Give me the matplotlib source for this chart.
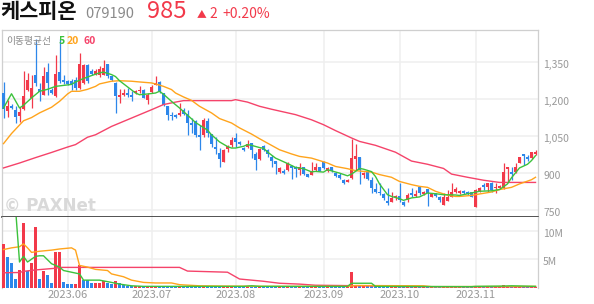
import numpy as np
import pandas as pd
import matplotlib
matplotlib.use('Agg')
import matplotlib.pyplot as plt
from matplotlib.transforms import ScaledTranslation

plt.rcParams['font.family'] = ['Noto Sans CJK KR', 'DejaVu Sans']

# 종목 정보
name = '케스피온'
code = '079190'
last_price = 985
change = 2
change_pct = 0.20

# 거래일 (주말 + 휴장일 제외)
holidays = ['2023-05-29', '2023-06-06', '2023-08-15', '2023-09-28',
            '2023-09-29', '2023-10-02', '2023-10-03', '2023-10-09']
dates = pd.bdate_range('2023-05-09', '2023-11-22')
dates = dates[~dates.isin(pd.to_datetime(holidays))]

opens = [1224, 1150, 1172, 1156, 1133, 1158, 1239, 1205, 1300, 1243,
         1218, 1310, 1239, 1211, 1310, 1279, 1272, 1272, 1279, 1245,
         1267, 1340, 1315, 1303, 1300, 1300, 1343, 1293, 1266, 1209,
         1216, 1225, 1218, 1225, 1232, 1239, 1198, 1229, 1259, 1270,
         1225, 1171, 1137, 1137, 1134, 1157, 1138, 1104, 1111, 1054,
         1054, 1111, 1058, 1006, 982, 945, 996, 1013, 1040, 1027,
         1000, 1004, 1020, 977, 955, 1009, 993, 966, 948, 905,
         909, 911, 928, 925, 911, 922, 895, 891, 911, 922,
         945, 909, 922, 901, 891, 871, 864, 878, 958, 963,
         891, 905, 871, 833, 823, 814, 787, 783, 800, 807,
         783, 789, 816, 806, 844, 814, 833, 803, 816, 803,
         769, 787, 803, 823, 816, 827, 823, 823, 762, 827,
         850, 844, 857, 837, 837, 837, 914, 905, 905, 941,
         975, 966, 960, 978]
highs = [1270, 1196, 1180, 1172, 1169, 1316, 1306, 1300, 1445, 1266,
         1329, 1347, 1245, 1381, 1445, 1297, 1280, 1283, 1289, 1388,
         1345, 1345, 1322, 1322, 1334, 1361, 1345, 1296, 1268, 1243,
         1243, 1245, 1234, 1236, 1252, 1241, 1225, 1256, 1293, 1273,
         1226, 1172, 1148, 1140, 1184, 1163, 1156, 1122, 1115, 1095,
         1122, 1122, 1058, 1044, 1000, 996, 1013, 1047, 1063, 1030,
         1006, 1034, 1020, 986, 1000, 1013, 996, 973, 948, 922,
         914, 945, 932, 928, 939, 924, 897, 945, 939, 925,
         949, 925, 925, 905, 898, 873, 873, 1036, 1017, 963,
         905, 908, 884, 857, 857, 818, 837, 823, 810, 857,
         787, 816, 837, 830, 846, 827, 833, 818, 818, 806,
         816, 830, 857, 841, 830, 830, 827, 823, 833, 841,
         857, 857, 864, 857, 850, 941, 922, 925, 939, 966,
         975, 973, 986, 992]
lows = [1122, 1129, 1160, 1104, 1108, 1156, 1232, 1164, 1252, 1191,
        1216, 1218, 1220, 1207, 1266, 1262, 1258, 1239, 1239, 1243,
        1260, 1265, 1298, 1298, 1289, 1297, 1286, 1275, 1144, 1184,
        1214, 1207, 1194, 1222, 1225, 1203, 1180, 1225, 1256, 1225,
        1171, 1116, 1116, 1123, 1130, 1137, 1054, 1061, 1044, 993,
        1047, 1044, 1004, 977, 922, 944, 986, 1006, 1006, 1013,
        990, 1000, 959, 911, 952, 990, 966, 925, 895, 898,
        895, 909, 873, 884, 891, 893, 882, 891, 909, 906,
        914, 905, 905, 884, 873, 854, 862, 873, 913, 855,
        878, 870, 819, 819, 810, 790, 769, 783, 789, 783,
        765, 783, 800, 803, 810, 810, 765, 800, 803, 783,
        769, 787, 800, 816, 813, 813, 810, 800, 762, 823,
        830, 823, 823, 819, 833, 833, 864, 871, 898, 939,
        932, 949, 958, 972]
closes = [1158, 1172, 1165, 1129, 1149, 1213, 1279, 1245, 1266, 1228,
          1293, 1266, 1225, 1302, 1275, 1268, 1262, 1259, 1245, 1343,
          1339, 1272, 1303, 1315, 1324, 1327, 1293, 1279, 1211, 1218,
          1225, 1216, 1209, 1232, 1239, 1205, 1218, 1248, 1266, 1232,
          1178, 1137, 1130, 1127, 1144, 1140, 1104, 1095, 1054, 1044,
          1115, 1061, 1017, 996, 955, 993, 1009, 1034, 1027, 1017,
          993, 1016, 993, 952, 997, 993, 977, 949, 935, 918,
          901, 939, 920, 917, 922, 895, 884, 909, 922, 909,
          918, 918, 909, 887, 878, 860, 871, 959, 967, 913,
          900, 873, 837, 823, 816, 796, 776, 796, 807, 789,
          769, 810, 810, 814, 816, 823, 816, 814, 806, 789,
          803, 803, 823, 833, 827, 816, 814, 803, 830, 837,
          841, 857, 830, 844, 846, 905, 922, 895, 925, 963,
          969, 955, 983, 985]

# 거래량 (백만주)
volume_m = [7.7, 5.3, 4.3, 1.5, 3.1, 11.4, 2.9, 4.4, 10.7, 1.5,
            2.9, 2.2, 0.85, 6.2, 6.2, 1.0, 0.7, 0.7, 0.7, 4.0,
            1.3, 1.3, 0.85, 0.85, 0.85, 1.2, 0.85, 0.7, 1.15, 0.85,
            0.5, 0.3, 0.25, 0.2, 0.3, 0.2, 0.25, 0.2, 0.2, 0.2,
            0.15, 0.2, 0.2, 0.15, 0.2, 0.15, 0.3, 0.15, 0.15, 0.2,
            0.15, 0.15, 0.3, 0.15, 0.3, 0.15, 0.12, 0.15, 0.12, 0.12,
            0.12, 0.15, 0.12, 0.15, 0.12, 0.1, 0.12, 0.12, 0.15, 0.1,
            0.1, 0.15, 0.2, 0.12, 0.1, 0.12, 0.1, 0.15, 0.12, 0.1,
            0.12, 0.1, 0.1, 0.12, 0.1, 0.12, 0.1, 2.7, 0.4, 0.3,
            0.2, 0.2, 0.25, 0.2, 0.15, 0.15, 0.12, 0.1, 0.1, 0.12,
            0.1, 0.1, 0.1, 0.1, 0.12, 0.1, 0.12, 0.1, 0.1, 0.1,
            0.1, 0.1, 0.12, 0.1, 0.1, 0.1, 0.1, 0.1, 0.3, 0.1,
            0.1, 0.12, 0.1, 0.1, 0.1, 0.4, 0.2, 0.15, 0.15, 0.15,
            0.15, 0.12, 0.15, 0.12]
vol_dir_head = 'RBBBRRBRRBRBBRRBBBRRBBBRRRBBRBB'

# 이동평균선
ma5_idx = [0, 2, 4, 5, 7, 9, 11, 13, 15, 17, 18, 20, 22, 24, 25, 27, 28, 29,
           31, 33, 34, 36, 38, 39, 40, 42, 44, 46, 48, 51, 52, 54, 56, 57, 58,
           60, 61, 62, 64, 65, 66, 68, 71, 73, 75, 77, 78, 80, 81, 82, 84, 86,
           87, 88, 89, 90, 92, 93, 94, 96, 97, 99, 100, 102, 104, 106, 108,
           110, 113, 114, 117, 119, 122, 124, 126, 127, 129, 131, 132, 133]
ma5_val = [1164, 1222, 1164, 1175, 1205, 1232, 1240, 1252, 1256, 1260, 1270,
           1284, 1296, 1307, 1310, 1300, 1292, 1275, 1250, 1225, 1218, 1221,
           1225, 1232, 1220, 1191, 1164, 1135, 1105, 1074, 1055, 1026, 1007,
           1001, 1001, 1008, 1015, 1012, 1003, 1000, 985, 960, 938, 922, 917,
           904, 906, 903, 913, 908, 899, 888, 895, 906, 918, 915, 905, 885,
           855, 811, 804, 795, 788, 798, 802, 818, 815, 811, 810, 808, 818,
           825, 827, 832, 855, 880, 920, 935, 950, 970]
ma20_idx = [0, 2, 5, 7, 9, 12, 14, 16, 17, 19, 21, 23, 24, 27, 29, 32, 34, 37,
            38, 40, 42, 43, 45, 47, 49, 52, 54, 57, 59, 62, 64, 67, 69, 72,
            74, 77, 79, 81, 83, 86, 88, 90, 92, 94, 97, 99, 102, 104, 106,
            108, 111, 113, 114, 117, 119, 122, 124, 127, 129, 132, 133]
ma20_val = [1019, 1060, 1112, 1125, 1144, 1167, 1191, 1221, 1232, 1232, 1240,
            1252, 1262, 1273, 1275, 1273, 1270, 1266, 1262, 1252, 1239, 1225,
            1209, 1195, 1171, 1144, 1121, 1103, 1083, 1058, 1039, 1012, 994,
            977, 967, 960, 950, 940, 926, 917, 909, 906, 903, 893, 882, 865,
            852, 845, 841, 825, 809, 804, 804, 808, 814, 822, 832, 841, 855,
            872, 882]
ma60_idx = [0, 4, 8, 12, 16, 18, 21, 23, 27, 32, 37, 40, 43, 45, 57, 58, 61,
            64, 67, 70, 73, 77, 80, 83, 87, 89, 93, 98, 102, 106, 110, 112,
            116, 120, 124, 133]
ma60_val = [920, 940, 962, 983, 1005, 1015, 1045, 1055, 1089, 1123, 1157,
            1178, 1188, 1194, 1194, 1198, 1188, 1171, 1159, 1148, 1137, 1116,
            1096, 1072, 1042, 1028, 1012, 984, 948, 935, 918, 895, 882, 870,
            861, 861]

# 거래량 이동평균 (백만주)
vma5_idx = [0, 3, 4, 5, 6, 8, 9, 10, 12, 14, 15, 17, 19, 20, 24, 27, 29, 32,
            35, 60, 62, 64, 86, 87, 92, 93, 117, 118, 125, 127, 130, 133]
vma5_val = [18, 14, 4.5, 5.5, 4.5, 5.5, 5.6, 5.6, 4.2, 3.6, 3.0, 2.7, 2.4,
            1.3, 1.3, 0.9, 0.6, 0.3, 0.2, 0.2, 0.3, 0.2, 0.2, 0.75, 0.75, 0.2,
            0.15, 0.2, 0.25, 0.3, 0.25, 0.2]
vma20_idx = [0, 2, 4, 5, 6, 7, 9, 12, 14, 17, 18, 19, 21, 23, 26, 27, 30, 32,
             35, 38, 42, 44, 49, 55, 70, 86, 88, 105, 107, 133]
vma20_val = [6.7, 7.0, 7.2, 7.7, 7.0, 6.2, 6.4, 6.6, 6.8, 7.0, 6.6, 3.9, 3.6,
             3.2, 3.0, 2.4, 1.9, 1.3, 0.9, 0.8, 0.8, 0.5, 0.3, 0.25, 0.2, 0.2,
             0.35, 0.3, 0.15, 0.2]
vma60_idx = [0, 4, 5, 8, 13, 14, 44, 46, 56, 59, 65, 69, 74, 78, 90, 100, 133]
vma60_val = [2.6, 2.65, 2.85, 3.1, 3.4, 3.55, 3.55, 2.9, 2.7, 1.5, 1.1, 0.75,
             0.6, 0.4, 0.3, 0.15, 0.12]

RED = '#f2394a'
BLUE = '#2d87ea'
GREEN = '#3cc23c'
ORANGE = '#ffa41c'
PINK = '#f5436a'
W, H = 594, 304

fig = plt.figure(figsize=(W / 100, H / 100), dpi=100)


def px_axes(left, top, right, bottom, **kw):
    return fig.add_axes([left / W, 1 - bottom / H, (right - left) / W, (bottom - top) / H], **kw)


def ftext(x, y, s, **kw):
    return fig.text(x / W, 1 - y / H, s, **kw)


ax_p = px_axes(2, 30, 537.5, 216.7)
ax_v = px_axes(2, 216.7, 537.5, 287.5, sharex=ax_p)

idx = np.arange(len(dates))
o = np.array(opens, dtype=float)
c = np.array(closes, dtype=float)
up = c >= o
colors = np.where(up, RED, BLUE)

# 캔들
ax_p.vlines(idx, lows, highs, colors=colors, lw=0.9, zorder=3)
body = np.maximum(np.abs(c - o), 2.5)
ax_p.bar(idx, body, bottom=np.minimum(o, c), width=0.78, color=colors, lw=0, zorder=3)

ax_p.plot(ma60_idx, ma60_val, color=PINK, lw=1.0, zorder=4)
ax_p.plot(ma20_idx, ma20_val, color=ORANGE, lw=1.0, zorder=4)
ax_p.plot(ma5_idx, ma5_val, color=GREEN, lw=1.0, zorder=4)

# 거래량
vol_up = [ch == 'R' for ch in vol_dir_head] + list(up[len(vol_dir_head):])
ax_v.bar(idx, volume_m, width=0.8, color=np.where(vol_up, RED, BLUE), lw=0, zorder=3)
ax_v.plot(vma60_idx, vma60_val, color=PINK, lw=1.0, zorder=4)
ax_v.plot(vma20_idx, vma20_val, color=ORANGE, lw=1.0, zorder=4)
ax_v.plot(vma5_idx, vma5_val, color=GREEN, lw=1.0, zorder=4)

ax_p.set_xlim(-0.38, len(dates) - 0.5)
ax_p.set_ylim(721.5, 1481.5)
ax_v.set_ylim(0, 12.5)

month_pos = [i for i in range(1, len(dates)) if dates[i].month != dates[i - 1].month]
month_lab = [dates[i].strftime('%Y.%m') for i in month_pos]

price_ticks = [750, 900, 1050, 1200, 1350]
ax_p.set_yticks(price_ticks)
ax_p.set_yticklabels([f'{v:,}' for v in price_ticks])
ax_v.set_yticks([5, 10])
ax_v.set_yticklabels(['5M', '10M'])
ax_v.set_xticks(month_pos)
ax_v.set_xticklabels(month_lab)

for ax in (ax_p, ax_v):
    ax.yaxis.tick_right()
    ax.grid(True, color='#efefef', lw=1.1)
    ax.set_axisbelow(True)
    ax.tick_params(length=0, labelsize=7.5, labelcolor='#999999', pad=4)
    ax.set_xticks(month_pos)
    for s in ax.spines.values():
        s.set_color('#cfcfcf')
        s.set_linewidth(0.9)
ax_p.tick_params(axis='x', labelbottom=False)
ax_v.tick_params(axis='x', pad=2, labelsize=8)
ax_p.spines['bottom'].set_color('#333333')
ax_p.spines['bottom'].set_linewidth(1.2)
ax_v.spines['top'].set_visible(False)
ax_v.spines['bottom'].set_visible(False)

shift = ScaledTranslation(0, -2 / 100, fig.dpi_scale_trans)
for lab in ax_p.get_yticklabels() + ax_v.get_yticklabels():
    lab.set_transform(lab.get_transform() + shift)

# 워터마크
ftext(4, 206, '© PAXNet', fontsize=12, weight='bold', color='#d9d9d9', va='center',
      family=['DejaVu Sans'])

# 이동평균선 범례
ftext(6, 41, '이동평균선', fontsize=7, color='#8a8a8a', va='center')
ftext(59, 41, '5', fontsize=7.5, weight='bold', color=GREEN, va='center')
ftext(67, 41, '20', fontsize=7.5, weight='bold', color=ORANGE, va='center')
ftext(83, 41, '60', fontsize=7.5, weight='bold', color=PINK, va='center')

# 제목
ftext(0, 18.5, name, fontsize=15, weight='bold', color='#111111', va='baseline')
ftext(85, 18, code, fontsize=10.5, color='#8a8a8a', va='baseline')
ftext(147, 18.5, f'{last_price}', fontsize=17, color=RED, va='baseline')
ftext(197, 17, '▲', fontsize=7, color=RED, va='baseline')
ftext(209, 17.5, f'{change}', fontsize=10, color=RED, va='baseline')
ftext(222, 17.5, f'+{change_pct:.2f}%', fontsize=10, color=RED, va='baseline')

fig.savefig('out.png', dpi=100)
